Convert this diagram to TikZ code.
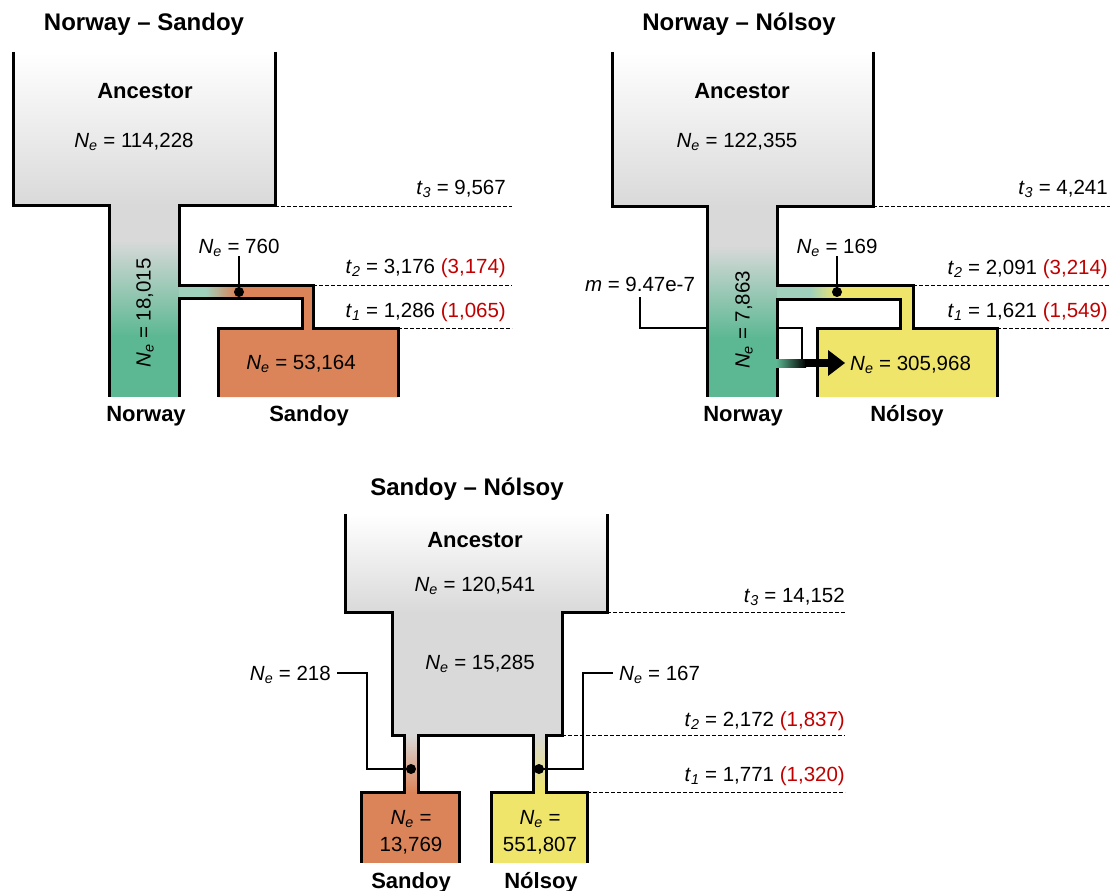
\documentclass[tikz,border=0pt]{standalone}
\usepackage{fontspec}
\setmainfont{Liberation Sans}
\definecolor{ancgray}{HTML}{D9D9D9}
\definecolor{norgreen}{HTML}{5CB893}
\definecolor{palegreen}{HTML}{A0D1BD}
\definecolor{sandorange}{HTML}{DB8459}
\definecolor{nolyellow}{HTML}{EFE56A}
\definecolor{oldred}{HTML}{C00000}
\newcommand{\Neff}{\textit{N}\textsubscript{\textit{e}}}
\newcommand{\tsub}[1]{\textit{t}\textsubscript{\textit{#1}}}
\begin{document}
\begin{tikzpicture}[x=1pt, y=-1pt,
  wall/.style={line width=3pt, line join=miter},
  lead/.style={line width=2pt},
  tline/.style={line width=1pt, dash pattern=on 4pt off 2pt},
  lbl/.style={inner sep=0pt, font=\fontsize{20.5}{27}\selectfont},
  hdr/.style={inner sep=0pt, font=\fontsize{22}{26}\selectfont\bfseries},
  ttl/.style={inner sep=0pt, font=\fontsize{24}{28}\selectfont\bfseries},
  dot/.style={circle, fill=black, inner sep=0pt, minimum size=10pt}]
\useasboundingbox (0,0) rectangle (1114,891);

\shade[top color=white, bottom color=ancgray] (13,52) rectangle (275,206);
\fill[ancgray] (109,205) rectangle (179,241);
\shade[top color=ancgray, bottom color=norgreen] (109,240) rectangle (179,336);
\fill[norgreen] (109,335) rectangle (179,397);
\fill[palegreen] (179,285) rectangle (206,298);
\shade[left color=palegreen, right color=sandorange] (205,285) rectangle (236,298);
\fill[sandorange] (235,285) rectangle (313,298) (302,285) rectangle (313,329) (218,328) rectangle (398,397);
\draw[wall] (13,52) |- (109,205) -- (109,397);
\draw[wall] (275,52) |- (179,205) |- (313,285) |- (398,328) -- (398,397);
\draw[wall] (179,397) |- (302,298) |- (218,328) -- (218,397);
\draw[tline] (275,206) -- (512,206);
\draw[tline] (313,285) -- (512,285);
\draw[tline] (398,328) -- (512,328);
\node[ttl, anchor=base] (nsTitle) at (144,31) {Norway – Sandoy};
\node[hdr, anchor=base] (nsAnc) at (145,99) {Ancestor};
\node[lbl, anchor=base] (nsAncNe) at (134,147) {\Neff{} = 114,228};
\node[lbl, rotate=90] (nsNorNe) at (145,313) {\Neff{} = 18,015};
\node[lbl, anchor=base] (nsMigNe) at (239,253) {\Neff{} = 760};
\node[dot] (nsDot) at (239,292) {};
\node[lbl, anchor=base] (nsSanNe) at (301,369) {\Neff{} = 53,164};
\node[lbl, anchor=base east] (nsT3) at (506,194) {\tsub{3} = 9,567};
\node[lbl, anchor=base east] (nsT2) at (506,273) {\tsub{2} = 3,176 \textcolor{oldred}{(3,174)}};
\node[lbl, anchor=base east] (nsT1) at (506,317) {\tsub{1} = 1,286 \textcolor{oldred}{(1,065)}};
\node[hdr, anchor=base] (nsNor) at (146,421) {Norway};
\node[hdr, anchor=base] (nsSan) at (309,421) {Sandoy};
\draw[lead] (nsDot.center) -- (nsDot |- nsMigNe.south);

\shade[top color=white, bottom color=ancgray] (612,52) rectangle (873,207);
\fill[ancgray] (707,206) rectangle (777,246);
\shade[top color=ancgray, bottom color=norgreen] (707,245) rectangle (777,338);
\fill[norgreen] (707,337) rectangle (777,397);
\fill[palegreen] (777,285) rectangle (811,299);
\shade[left color=palegreen, right color=nolyellow] (810,285) rectangle (837,299);
\fill[nolyellow] (836,285) rectangle (913,299) (900,285) rectangle (913,329) (817,328) rectangle (997,397);
\draw[wall] (612,52) |- (707,206) -- (707,397);
\draw[wall] (873,52) |- (777,206) |- (913,285) |- (997,328) -- (997,397);
\draw[wall] (777,397) |- (900,299) |- (817,328) -- (817,397);
\draw[tline] (873,206) -- (1110,206);
\draw[tline] (913,285) -- (1110,285);
\draw[tline] (997,328) -- (1110,328);
\coordinate (mEnd) at (707,328);
\coordinate (migStart) at (777,328);
\coordinate (migBend) at (802,359);
\shade[left color=norgreen, right color=black] (776,359) rectangle (806,367);
\fill (805,359) rectangle (829,367);
\fill (828,350) -- (845,363) -- (828,376) -- cycle;
\draw[lead] (migStart) -| (migBend);
\node[ttl, anchor=base] (nnTitle) at (739,31) {Norway – Nólsoy};
\node[hdr, anchor=base] (nnAnc) at (742,99) {Ancestor};
\node[lbl, anchor=base] (nnAncNe) at (737,147) {\Neff{} = 122,355};
\node[lbl, rotate=90] (nnNorNe) at (744,320) {\Neff{} = 7,863};
\node[lbl, anchor=base] (nnMigNe) at (837,253) {\Neff{} = 169};
\node[dot] (nnDot) at (837,292) {};
\node[lbl, anchor=base] (nnRate) at (640,291) {\textit{m} = 9.47e-7};
\node[lbl, anchor=base west] (nnNolNe) at (850,370) {\Neff{} = 305,968};
\node[lbl, anchor=base east] (nnT3) at (1108,194) {\tsub{3} = 4,241};
\node[lbl, anchor=base east] (nnT2) at (1108,274) {\tsub{2} = 2,091 \textcolor{oldred}{(3,214)}};
\node[lbl, anchor=base east] (nnT1) at (1108,317) {\tsub{1} = 1,621 \textcolor{oldred}{(1,549)}};
\node[hdr, anchor=base] (nnNor) at (743,421) {Norway};
\node[hdr, anchor=base] (nnNol) at (907,421) {Nólsoy};
\draw[lead] (nnDot.center) -- (nnDot |- nnMigNe.south);
\draw[lead] (nnRate.south) ++(0,6) |- (mEnd);

\shade[top color=white, bottom color=ancgray] (345,514) rectangle (607,613);
\fill[ancgray] (392,612) rectangle (562,735);
\shade[top color=ancgray, bottom color=sandorange] (404,735) rectangle (418,792);
\shade[top color=ancgray, bottom color=nolyellow] (533,735) rectangle (546,792);
\fill[sandorange] (361,792) rectangle (459,863);
\fill[nolyellow] (491,792) rectangle (587,863);
\draw[wall] (345,514) |- (392,612) |- (404,735) |- (361,792) -- (361,863);
\draw[wall] (459,863) |- (418,792) |- (533,735) |- (491,792) -- (491,863);
\draw[wall] (587,863) |- (546,792) |- (562,735) |- (607,612) -- (607,514);
\draw[tline] (607,612) -- (845,612);
\draw[tline] (562,735) -- (845,735);
\draw[tline] (587,792) -- (845,792);
\coordinate (snBendS) at (367,673);
\coordinate (snBendN) at (583,673);
\node[ttl, anchor=base] (snTitle) at (467,495) {Sandoy – Nólsoy};
\node[hdr, anchor=base] (snAnc) at (475,547) {Ancestor};
\node[lbl, anchor=base] (snAncNe) at (475,591) {\Neff{} = 120,541};
\node[lbl, anchor=base] (snMidNe) at (480,669) {\Neff{} = 15,285};
\node[dot] (snDotS) at (411,769) {};
\node[dot] (snDotN) at (539,769) {};
\node[lbl, anchor=base east] (snSanMig) at (331,680) {\Neff{} = 218};
\node[lbl, anchor=base west] (snNolMig) at (619,680) {\Neff{} = 167};
\node[lbl, align=center] (snSanNe) at (411,832) {\Neff{} =\\13,769};
\node[lbl, align=center] (snNolNe) at (540,832) {\Neff{} =\\551,807};
\node[lbl, anchor=base east] (snT3) at (845,602) {\tsub{3} = 14,152};
\node[lbl, anchor=base east] (snT2) at (845,726) {\tsub{2} = 2,172 \textcolor{oldred}{(1,837)}};
\node[lbl, anchor=base east] (snT1) at (845,781) {\tsub{1} = 1,771 \textcolor{oldred}{(1,320)}};
\node[hdr, anchor=base] (snSan) at (411,888) {Sandoy};
\node[hdr, anchor=base] (snNol) at (541,888) {Nólsoy};
\draw[lead] (snDotS.center) -| (snBendS) -- ([xshift=6pt]snSanMig.east |- snBendS);
\draw[lead] (snDotN.center) -| (snBendN) -- ([xshift=-6pt]snNolMig.west |- snBendN);
\end{tikzpicture}
\end{document}
